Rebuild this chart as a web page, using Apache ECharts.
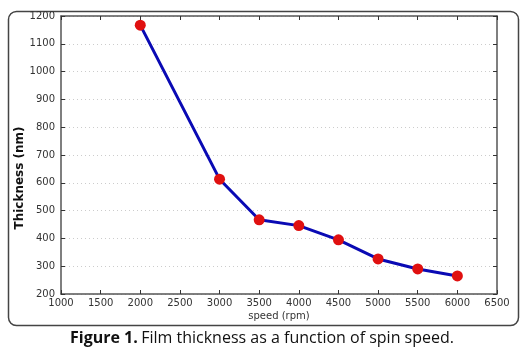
<!DOCTYPE html>
<html>
<head>
<meta charset="utf-8">
<script src="https://cdn.jsdelivr.net/npm/echarts@6/dist/echarts.min.js"></script>
<style>
    html, body {margin:0;padding:0;background:#fff;}
    #chart {width:524px;height:353px;}
</style>
</head>
<body>
<div id="chart"></div>
<script>
    var speeds = [2000, 3000, 3500, 4000, 4500, 5000, 5500, 6000];
    var thickness = [1167, 613, 467, 446, 395, 326, 290, 265];

    var chart = echarts.init(document.getElementById('chart'));
    var tickFont = {
        fontFamily: 'DejaVu Sans', fontSize: 10, color: '#333',
        formatter: function (v) { return String(v); }
    };
    var axisLine = {show: true, lineStyle: {color: '#555', width: 1.5}};
    var tick = {show: true, inside: true, length: 4, lineStyle: {color: '#333'}};

    var option = {
        animation: false,
        grid: {left: 61, top: 16, right: 27, bottom: 59, outerBoundsMode: 'none'},
        xAxis: [{
            type: 'value', min: 1000, max: 6500, interval: 500,
            axisLine: axisLine, axisTick: tick,
            axisLabel: Object.assign({margin: 4}, tickFont),
            splitLine: {show: false},
            name: 'speed (rpm)', nameLocation: 'middle', nameGap: 17, nameMoveOverlap: false,
            nameTextStyle: {fontFamily: 'DejaVu Sans', fontSize: 10, color: '#333'}
        }, {
            type: 'value', position: 'top', min: 1000, max: 6500, interval: 500,
            axisLine: axisLine, axisTick: tick, axisLabel: {show: false}, splitLine: {show: false}
        }],
        yAxis: [{
            type: 'value', min: 200, max: 1200, interval: 100,
            axisLine: axisLine, axisTick: tick,
            axisLabel: Object.assign({margin: 6}, tickFont),
            splitLine: {show: true, lineStyle: {color: '#ccc', type: [1, 3]}},
            name: 'Thickness (nm)', nameLocation: 'middle', nameGap: 35, nameMoveOverlap: false,
            nameTextStyle: {
                fontFamily: 'DejaVu Sans', fontSize: 12, fontWeight: 'bold', color: '#111',
                padding: [0, 46, 0, 0]
            }
        }, {
            type: 'value', position: 'right', min: 200, max: 1200, interval: 100,
            axisLine: axisLine, axisTick: tick, axisLabel: {show: false}, splitLine: {show: false}
        }],
        series: [{
            type: 'line',
            data: speeds.map(function (s, i) { return [s, thickness[i]]; }),
            lineStyle: {color: '#0a0ab4', width: 3},
            symbol: 'circle', symbolSize: 11,
            itemStyle: {color: '#e01010'},
            z: 3
        }],
        graphic: [{
            type: 'rect', left: 6, top: 9,
            shape: {width: 510, height: 314, r: 8},
            style: {fill: 'none', stroke: '#444', lineWidth: 1.5},
            silent: true
        }, {
            type: 'text', left: 'center', top: 330,
            style: {
                rich: {
                    b: {fontFamily: 'Open Sans', fontSize: 16, fontWeight: 'bold', fill: '#111'},
                    n: {fontFamily: 'Open Sans', fontSize: 16, fill: '#111'}
                },
                text: '{b|Figure 1.} {n|Film thickness as a function of spin speed.}'
            }
        }]
    };
    chart.setOption(option);
</script>
</body>
</html>
